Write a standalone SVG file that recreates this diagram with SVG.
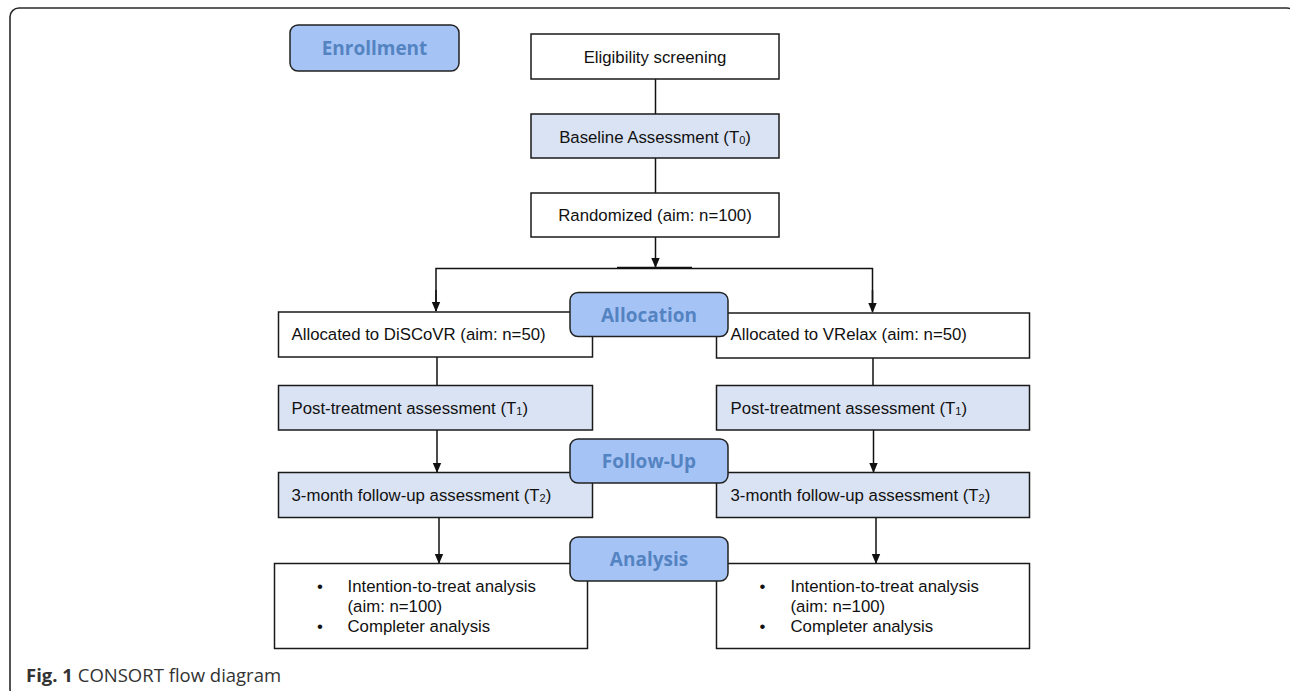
<svg xmlns="http://www.w3.org/2000/svg" width="1290" height="691" viewBox="0 0 1290 691">
<style>
.box{stroke:#1a1a1a;stroke-width:1.5}
.w{fill:#ffffff}
.b{fill:#dae3f3}
.lab{fill:#a6c3f5;stroke:#222;stroke-width:1.5}
.lt{font-family:"Open Sans","Noto Sans",sans-serif;font-weight:bold;font-size:19px;fill:#5483c2;text-anchor:middle}
.t{font-family:"Liberation Sans",Arial,sans-serif;font-size:16.8px;fill:#111}
.c{text-anchor:middle}
.sub{font-size:11px}
.con{stroke:#111;stroke-width:1.5;fill:none}
.arr{stroke:#111;stroke-width:1.5;fill:none;marker-end:url(#ah)}
</style>
<defs>
<marker id="ah" markerUnits="userSpaceOnUse" markerWidth="10" markerHeight="10" refX="9" refY="5" orient="auto">
<path d="M0,0.8 L10,5 L0,9.2 z" fill="#111"/>
</marker>
</defs>
<rect x="0" y="0" width="1290" height="691" fill="#ffffff"/>
<rect id="frame" x="10" y="8" width="1286" height="690" rx="9" fill="none" stroke="#2a2a2a" stroke-width="1.6"/>

<g id="connectors">
<line class="con" x1="655.5" y1="79" x2="655.5" y2="114"/>
<line class="con" x1="655.5" y1="158" x2="655.5" y2="193"/>
<line class="arr" x1="655.5" y1="237" x2="655.5" y2="267"/>
<path class="con" d="M436,311 V268.5 H872.5 V311"/>
<line class="con" x1="617" y1="267.5" x2="692" y2="267.5" stroke-width="1"/>
<line class="arr" x1="436" y1="290" x2="436" y2="311"/>
<line class="arr" x1="872.5" y1="290" x2="872.5" y2="312"/>
<line class="con" x1="437" y1="357" x2="437" y2="385"/>
<line class="con" x1="873" y1="358" x2="873" y2="385"/>
<line class="arr" x1="437" y1="430" x2="437" y2="472"/>
<line class="arr" x1="873.5" y1="430" x2="873.5" y2="472"/>
<line class="arr" x1="439" y1="517" x2="439" y2="563"/>
<line class="arr" x1="876" y1="517" x2="876" y2="563"/>
</g>

<g id="enrollment">
<rect class="lab" x="290" y="25" width="169" height="46" rx="8"/>
<text class="lt" x="374.5" y="55">Enrollment</text>
</g>

<g id="eligibility">
<rect class="box w" x="531" y="34" width="248" height="45"/>
<text class="t c" x="655" y="63">Eligibility screening</text>
</g>

<g id="baseline">
<rect class="box b" x="531" y="114" width="248" height="44"/>
<text class="t c" x="655" y="143">Baseline Assessment (T<tspan class="sub" dy="1">0</tspan><tspan dy="-1">)</tspan></text>
</g>

<g id="randomized">
<rect class="box w" x="531" y="193" width="248" height="44"/>
<text class="t c" x="655" y="221">Randomized (aim: n=100)</text>
</g>

<g id="alloc-discovr">
<rect class="box w" x="278.5" y="312" width="314" height="45"/>
<text class="t" x="291.5" y="340">Allocated to DiSCoVR (aim: n=50)</text>
</g>

<g id="alloc-vrelax">
<rect class="box w" x="716.5" y="313" width="313" height="45"/>
<text class="t" x="730.5" y="340">Allocated to VRelax (aim: n=50)</text>
</g>

<g id="allocation">
<rect class="lab" x="570" y="292.5" width="158" height="44" rx="8"/>
<text class="lt" x="649" y="321.5">Allocation</text>
</g>

<g id="post-left">
<rect class="box b" x="278.5" y="385.5" width="314" height="44.5"/>
<text class="t" x="291.5" y="413.5">Post-treatment assessment (T<tspan class="sub" dy="1">1</tspan><tspan dy="-1">)</tspan></text>
</g>

<g id="post-right">
<rect class="box b" x="716.5" y="385.5" width="313" height="44.5"/>
<text class="t" x="730.5" y="413.5">Post-treatment assessment (T<tspan class="sub" dy="1">1</tspan><tspan dy="-1">)</tspan></text>
</g>

<g id="fu-left">
<rect class="box b" x="278.5" y="472.5" width="314" height="45"/>
<text class="t" x="291.5" y="501">3-month follow-up assessment (T<tspan class="sub" dy="1">2</tspan><tspan dy="-1">)</tspan></text>
</g>

<g id="fu-right">
<rect class="box b" x="716.5" y="472.5" width="313" height="45"/>
<text class="t" x="730.5" y="501">3-month follow-up assessment (T<tspan class="sub" dy="1">2</tspan><tspan dy="-1">)</tspan></text>
</g>

<g id="followup">
<rect class="lab" x="570" y="439" width="158" height="44" rx="8"/>
<text class="lt" x="649" y="468">Follow-Up</text>
</g>

<g id="analysis-left">
<rect class="box w" x="274.5" y="563.5" width="313" height="85"/>
<text class="t" x="317" y="592">•</text>
<text class="t" x="347.5" y="592">Intention-to-treat analysis</text>
<text class="t" x="347.5" y="612">(aim: n=100)</text>
<text class="t" x="317" y="632">•</text>
<text class="t" x="347.5" y="632">Completer analysis</text>
</g>

<g id="analysis-right">
<rect class="box w" x="716.5" y="563.5" width="313" height="85"/>
<text class="t" x="759.5" y="592">•</text>
<text class="t" x="790.5" y="592">Intention-to-treat analysis</text>
<text class="t" x="790.5" y="612">(aim: n=100)</text>
<text class="t" x="759.5" y="632">•</text>
<text class="t" x="790.5" y="632">Completer analysis</text>
</g>

<g id="analysis">
<rect class="lab" x="570" y="537" width="158" height="44" rx="8"/>
<text class="lt" x="649" y="566">Analysis</text>
</g>

<text id="caption" x="26" y="682" font-family="'Open Sans','Noto Sans',sans-serif" font-size="18.5" fill="#333"><tspan font-weight="bold">Fig. 1</tspan> CONSORT flow diagram</text>
</svg>
